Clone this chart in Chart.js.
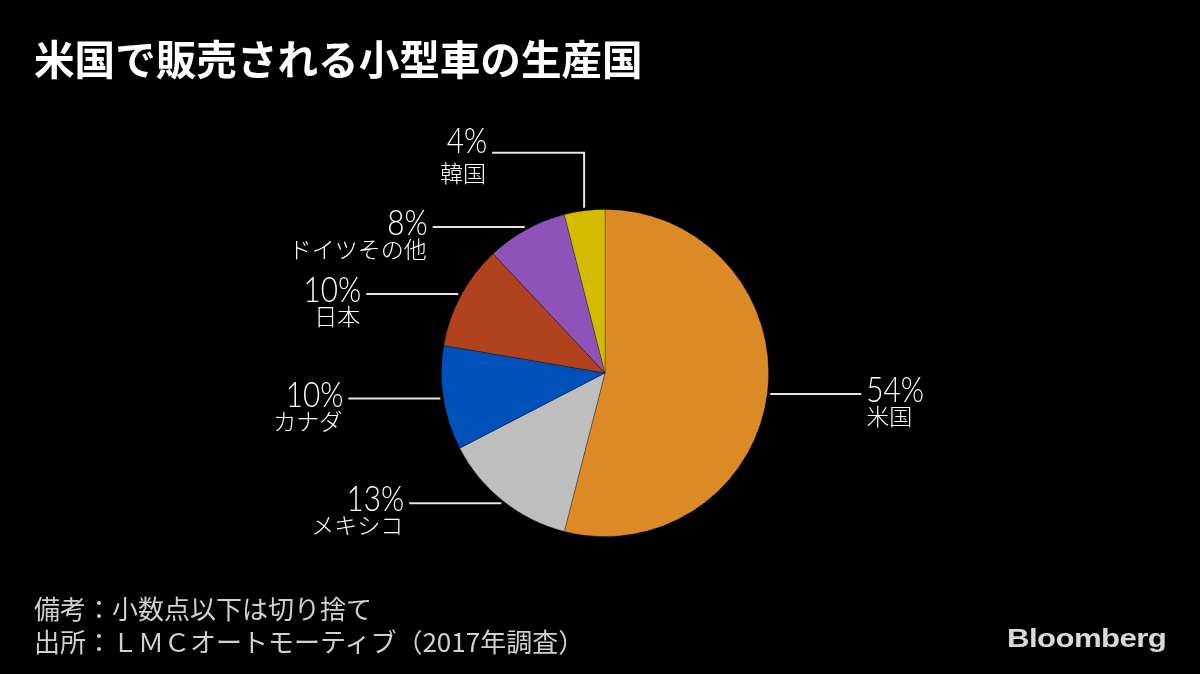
<!DOCTYPE html>
<html>
<head>
<meta charset="utf-8">
<script src="https://cdn.jsdelivr.net/npm/chart.js@4.4.1/dist/chart.umd.min.js"></script>
<style>
  body { margin: 0; background: #000; width: 1200px; height: 674px; overflow: hidden; position: relative; }
  canvas { position: absolute; left: 0; top: 0; }
  .title { position: absolute; left: 34px; top: 38px; font: bold 40.6px "Noto Sans CJK JP"; line-height: 40px; color: #fff; white-space: nowrap; }
  .note { position: absolute; left: 34px; top: 591px; font: 26px "Noto Sans CJK JP"; line-height: 33px; color: #d0d0d0; white-space: nowrap; }
  .logo { position: absolute; left: 1007px; top: 625px; font: bold 26px "Liberation Sans"; line-height: 26px; color: #d9d9d9; transform: scaleX(1.2); transform-origin: left top; letter-spacing: -0.5px; }
</style>
</head>
<body>
<canvas id="chart" width="1200" height="674"></canvas>
<div class="title">米国で販売される小型車の生産国</div>
<div class="note">備考：小数点以下は切り捨て<br>出所：ＬＭＣオートモーティブ（2017年調査）</div>
<div class="logo">Bloomberg</div>
<script>
// shares in %, clockwise from 12 o'clock
const countries = ["米国", "メキシコ", "カナダ", "日本", "ドイツその他", "韓国"];
const shares = [54.0, 13.4, 10.3, 10.3, 8.0, 4.0];
const colors = ["#dc8a25", "#bebebe", "#0050b9", "#b2411e", "#8d53b8", "#d5bb00"];

// leader lines + labels
const labelPlugin = {
  id: "pieLabels",
  afterDatasetsDraw(chart) {
    const ctx = chart.ctx;
    const arcs = chart.getDatasetMeta(0).data;
    ctx.save();
    ctx.strokeStyle = "#e6e6e6";
    ctx.lineWidth = 2;
    ctx.fillStyle = "#fff";
    arcs.forEach((arc, i) => {
      const { x, y, startAngle, endAngle, outerRadius } = arc.getProps(["x", "y", "startAngle", "endAngle", "outerRadius"], true);
      const mid = (startAngle + endAngle) / 2;
      const r = outerRadius + 3;
      const ax = x + Math.cos(mid) * r;
      const ay = y + Math.sin(mid) * r;
      const right = Math.cos(mid) >= 0;
      const pct = Math.floor(shares[i]) + "%";
      let lineY = ay, endX, numY, labY;

      ctx.beginPath();
      if (Math.abs(Math.cos(mid)) < 0.3) {
        // slice near the top: go up, then left
        lineY = ay - 55;
        endX = ax - 92;
        ctx.moveTo(ax, ay);
        ctx.lineTo(ax, lineY);
        ctx.lineTo(endX, lineY);
        numY = lineY;
        labY = lineY + 29;
      } else {
        endX = right ? ax + 91 : ax - 92;
        ctx.moveTo(ax, ay);
        ctx.lineTo(endX, lineY);
        numY = lineY + 8;
        labY = lineY + 31;
      }
      ctx.stroke();

      const tx = right ? endX + 5 : endX - 5;
      ctx.textAlign = right ? "left" : "right";
      ctx.textBaseline = "alphabetic";
      // percent: light, slightly condensed
      ctx.save();
      ctx.translate(tx, numY);
      ctx.scale(0.85, 1);
      ctx.font = "300 35px Lato";
      ctx.fillText(pct, 0, 0);
      ctx.restore();
      ctx.font = "300 23px 'Noto Sans CJK JP'";
      ctx.fillText(countries[i], tx - (right ? 0 : 1), labY);
    });
    ctx.restore();
  }
};

new Chart(document.getElementById("chart"), {
  type: "pie",
  data: {
    labels: countries,
    datasets: [{
      data: shares,
      backgroundColor: colors,
      borderColor: "rgba(0,0,0,0.35)",
      borderWidth: 0.8
    }]
  },
  options: {
    responsive: false,
    animation: false,
    devicePixelRatio: 1,
    layout: { padding: { left: 441, right: 431, top: 209, bottom: 137 } },
    plugins: {
      legend: { display: false },
      tooltip: { enabled: false }
    }
  },
  plugins: [labelPlugin]
});
</script>
</body>
</html>
